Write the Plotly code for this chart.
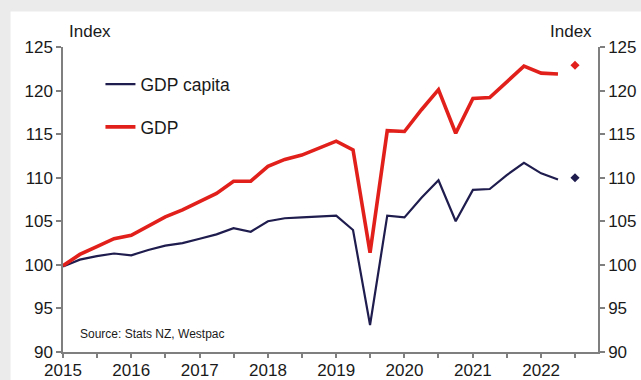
import plotly.graph_objects as go
import pandas as pd

# ---- data ----
quarters = pd.date_range("2015-01-01", periods=30, freq="QS").strftime("%Y-%m-%d").tolist()
gdp = [99.9, 101.2, 102.1, 103.0, 103.4, 104.5, 105.5, 106.3, 107.3, 108.2,
       109.6, 109.6, 111.3, 112.1, 112.6, 113.4, 114.2, 113.2, 101.4, 115.4,
       115.3, 117.8, 120.1, 115.1, 119.1, 119.2, 121.0, 122.8, 122.0, 121.9]
gdp_capita = [99.8, 100.6, 101.0, 101.3, 101.1, 101.7, 102.2, 102.5, 103.0, 103.5,
              104.2, 103.8, 105.0, 105.35, 105.45, 105.55, 105.65, 104.0, 93.1, 105.65,
              105.45, 107.7, 109.7, 105.0, 108.6, 108.7, 110.3, 111.7, 110.5, 109.8]
forecast_date = ["2022-07-01"]
gdp_forecast = [122.9]
gdp_capita_forecast = [110.0]
year_ticks = ["2015", "2016", "2017", "2018", "2019", "2020", "2021", "2022"]

RED = "#e2201b"
NAVY = "#1f1c4e"
TXT = "#1a1a1a"
AX = "#7f7f7f"
FONT = "Liberation Sans, Arial, sans-serif"

fig = go.Figure()
fig.add_trace(go.Scatter(x=quarters, y=gdp_capita, mode="lines", name="GDP capita",
                         line=dict(color=NAVY, width=2.2), legendgroup="a"))
fig.add_trace(go.Scatter(x=quarters, y=gdp, mode="lines", name="GDP",
                         line=dict(color=RED, width=3.6), legendgroup="b"))
fig.add_trace(go.Scatter(x=forecast_date, y=gdp_forecast, mode="markers", showlegend=False,
                         marker=dict(symbol="diamond", size=7, color=RED), yaxis="y2"))
fig.add_trace(go.Scatter(x=forecast_date, y=gdp_capita_forecast, mode="markers", showlegend=False,
                         marker=dict(symbol="diamond", size=7, color=NAVY), yaxis="y2"))

yax = dict(range=[90, 125], tickvals=[90, 95, 100, 105, 110, 115, 120, 125],
           showgrid=False, zeroline=False, showline=True, linecolor=AX, linewidth=1.5,
           ticks="outside", ticklen=5, tickcolor=AX, tickwidth=1.5, automargin=False,
           tickfont=dict(family=FONT, size=17, color=TXT), fixedrange=True)

fig.update_layout(
    width=641, height=380,
    margin=dict(l=63, r=43, t=47, b=28),
    paper_bgcolor="#ebebeb", plot_bgcolor="white",
    font=dict(family=FONT, color=TXT),
    xaxis=dict(type="date", range=["2015-01-01", "2022-11-01"], automargin=False,
               tickvals=[y + "-01-01" for y in year_ticks], ticktext=year_ticks,
               showgrid=False, zeroline=False, showline=True, linecolor=AX, linewidth=1.5,
               ticks="outside", ticklen=4, tickcolor=AX, tickwidth=1.5,
               ticklabelstandoff=-2,
               minor=dict(dtick="M6", tick0="2015-01-01", ticks="outside", ticklen=4,
                          tickcolor=AX, tickwidth=1.5, showgrid=False),
               tickfont=dict(family=FONT, size=17, color=TXT)),
    yaxis=yax,
    yaxis2=dict(yax, overlaying="y", side="right", matches="y"),
    showlegend=True,
    legend=dict(x=0.07, y=0.937, xanchor="left", yanchor="top", bgcolor="rgba(0,0,0,0)",
                font=dict(family=FONT, size=17.5, color=TXT), traceorder="grouped",
                tracegroupgap=17),
    shapes=[dict(type="rect", xref="paper", yref="paper", x0=-0.098, x1=1.2, y0=-0.2, y1=1.116,
                 fillcolor="white", line=dict(width=0), layer="below")],
    annotations=[
        dict(text="Index", xref="paper", yref="paper", x=0.008, y=1.05, xanchor="left",
             yanchor="middle", showarrow=False, font=dict(family=FONT, size=17, color=TXT)),
        dict(text="Index", xref="paper", yref="paper", x=0.992, y=1.05, xanchor="right",
             yanchor="middle", showarrow=False, font=dict(family=FONT, size=17, color=TXT)),
        dict(text="Source: Stats NZ, Westpac", xref="paper", yref="paper", x=0.0275, y=0.058,
             xanchor="left", yanchor="middle", showarrow=False,
             font=dict(family=FONT, size=12, color=TXT)),
    ],
)

fig.write_html("out.html")
